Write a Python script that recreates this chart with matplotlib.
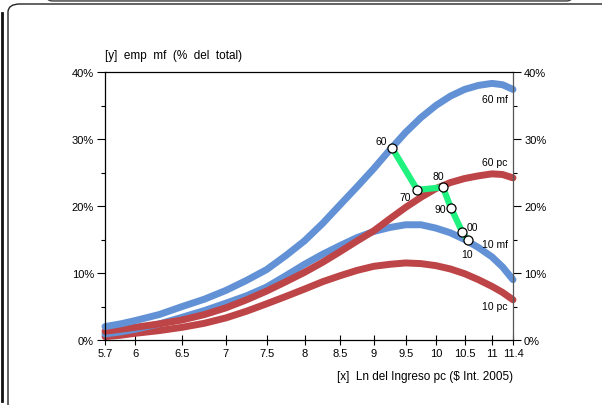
"""Manufacturing employment share against log income per capita.

Four fitted curves (60/10 percentiles, manufacturing vs. per-capita view)
plus the decade path of one economy, drawn on a log-scaled income axis.
"""

import matplotlib.pyplot as plt
from matplotlib.lines import Line2D
from matplotlib.patches import FancyBboxPatch

plt.rcParams["font.family"] = ["Liberation Sans", "DejaVu Sans"]

# income grid (ln of income, shown on a log axis) and the fitted shares in %
INCOME = [5.7, 5.85, 6.0, 6.25, 6.5, 6.75, 7.0, 7.25, 7.5, 7.75, 8.0, 8.25,
          8.5, 8.75, 9.0, 9.25, 9.5, 9.75, 10.0, 10.25, 10.5, 10.75, 11.0,
          11.2, 11.4]
MF_60 = [2.0, 2.4, 2.9, 3.8, 5.0, 6.1, 7.4, 8.9, 10.5, 12.6, 14.8, 17.4,
         20.2, 22.9, 25.6, 28.4, 31.0, 33.2, 35.0, 36.4, 37.4, 38.0, 38.3,
         38.1, 37.4]
MF_10 = [0.9, 1.2, 1.6, 2.4, 3.4, 4.4, 5.5, 6.6, 7.9, 9.6, 11.3, 12.8,
         14.1, 15.3, 16.2, 16.8, 17.2, 17.2, 16.7, 16.0, 15.0, 13.8, 12.4,
         10.9, 9.0]
PC_60 = [1.3, 1.6, 1.9, 2.4, 3.0, 3.8, 4.8, 6.0, 7.3, 8.7, 10.1, 11.6,
         13.2, 14.8, 16.3, 18.1, 19.8, 21.3, 22.6, 23.5, 24.1, 24.5, 24.8,
         24.7, 24.2]
PC_10 = [0.5, 0.7, 1.0, 1.4, 1.9, 2.5, 3.3, 4.3, 5.4, 6.5, 7.6, 8.7,
         9.6, 10.4, 11.0, 11.3, 11.5, 11.4, 11.1, 10.6, 9.9, 9.0, 8.0,
         7.1, 6.0]

# decade path
PATH_YEARS = ["60", "70", "80", "90", "00", "10"]
PATH_X = [9.28, 9.69, 10.12, 10.26, 10.46, 10.56]
PATH_Y = [28.7, 22.4, 22.8, 19.7, 16.1, 14.9]

X_TICKS = [5.7, 6, 6.5, 7, 7.5, 8, 8.5, 9, 9.5, 10, 10.5, 11, 11.4]
X_TICK_LABELS = ["5.7", "6", "6.5", "7", "7.5", "8", "8.5", "9", "9.5",
                 "10", "10.5", "11", "11.4"]
Y_TICKS = [0, 10, 20, 30, 40]
Y_TICK_LABELS = ["0%", "10%", "20%", "30%", "40%"]
Y_MINOR = [5, 15, 25, 35]

BLUE = "#6292d5"
RED = "#bd4447"
GREEN = "#1ff27f"

# label offsets for the decade markers, in points
_YEAR_OFFSET = {
    "60": (-8, 5), "70": (-9, -5), "80": (-3, 8),
    "90": (-8, -1), "00": (7, 4), "10": (-1, -10),
}


def main():
    W, H = 602, 406
    fig = plt.figure(figsize=(W / 100, H / 100), dpi=100)

    # panel frame around the chart
    def px(x, y):
        return x / W, 1 - y / H

    frame = FancyBboxPatch(px(8, 420), (640 - 8) / W, (420 - 5) / H,
                           boxstyle="round,pad=0,rounding_size=0.02",
                           transform=fig.transFigure, fill=False,
                           edgecolor="#222222", linewidth=1.0)
    fig.add_artist(frame)
    top_bar = FancyBboxPatch(px(47, 2), (572 - 47) / W, 12 / H,
                             boxstyle="round,pad=0,rounding_size=0.01",
                             transform=fig.transFigure, facecolor="#cfcfcf",
                             edgecolor="#444444", linewidth=1.0)
    fig.add_artist(top_bar)
    fig.add_artist(Line2D([1.5 / W, 1.5 / W], [1 - 14 / H, 1 - 402 / H],
                          transform=fig.transFigure, color="#111111",
                          linewidth=2.0))

    ax = fig.add_axes([105 / W, 65 / H, 408 / W, 268 / H])
    ax.set_xscale("log")
    ax.set_xlim(5.7, 11.4)
    ax.set_ylim(0, 40)

    curve_kw = dict(linewidth=5, solid_capstyle="round",
                    solid_joinstyle="round", clip_on=False)
    ax.plot(INCOME, PC_10, color=RED, zorder=2, **curve_kw)
    ax.plot(INCOME, MF_10, color=BLUE, zorder=2, **curve_kw)
    ax.plot(INCOME, PC_60, color=RED, zorder=2, **curve_kw)
    ax.plot(INCOME, MF_60, color=BLUE, zorder=2, **curve_kw)

    ax.plot(PATH_X, PATH_Y, color=GREEN, linewidth=4.5,
            solid_joinstyle="round", zorder=3)
    ax.plot(PATH_X, PATH_Y, linestyle="", marker="o", markersize=6.5,
            markerfacecolor="white", markeredgecolor="black",
            markeredgewidth=0.9, zorder=4)
    for yr, x, y in zip(PATH_YEARS, PATH_X, PATH_Y):
        dx, dy = _YEAR_OFFSET[yr]
        ax.annotate(yr, (x, y), textcoords="offset points", xytext=(dx, dy),
                    ha="center", va="center", fontsize=7.5, zorder=5)

    for text, y in [("60 mf", 35.9), ("60 pc", 26.6),
                    ("10 mf", 14.3), ("10 pc", 5.0)]:
        ax.text(11.05, y, text, ha="center", va="center", fontsize=7.5)

    ax.set_xticks(X_TICKS)
    ax.set_xticklabels(X_TICK_LABELS)
    ax.xaxis.set_minor_locator(plt.NullLocator())
    ax.set_yticks(Y_TICKS)
    ax.set_yticklabels(Y_TICK_LABELS)
    ax.set_yticks(Y_MINOR, minor=True)

    ax.tick_params(axis="x", direction="inout", length=7, width=0.8,
                   labelsize=8, pad=2)
    ax.tick_params(axis="y", which="major", direction="out", length=6,
                   width=0.8, labelsize=8, pad=2, right=True, labelright=True)
    ax.tick_params(axis="y", which="minor", direction="out", length=3,
                   width=0.8, right=True)
    for side in ax.spines.values():
        side.set_linewidth(0.9)
        side.set_color("black")
    ax.spines["right"].set_color("#555555")

    ax.text(0, 1.065, "[y]  emp  mf  (%  del  total)", transform=ax.transAxes,
            ha="left", va="center", fontsize=8.5)
    ax.text(1, -0.135, "[x]  Ln del Ingreso pc ($ Int. 2005)",
            transform=ax.transAxes, ha="right", va="center", fontsize=8.5)

    fig.savefig("out.png", dpi=100)
    plt.close(fig)


if __name__ == "__main__":
    main()
